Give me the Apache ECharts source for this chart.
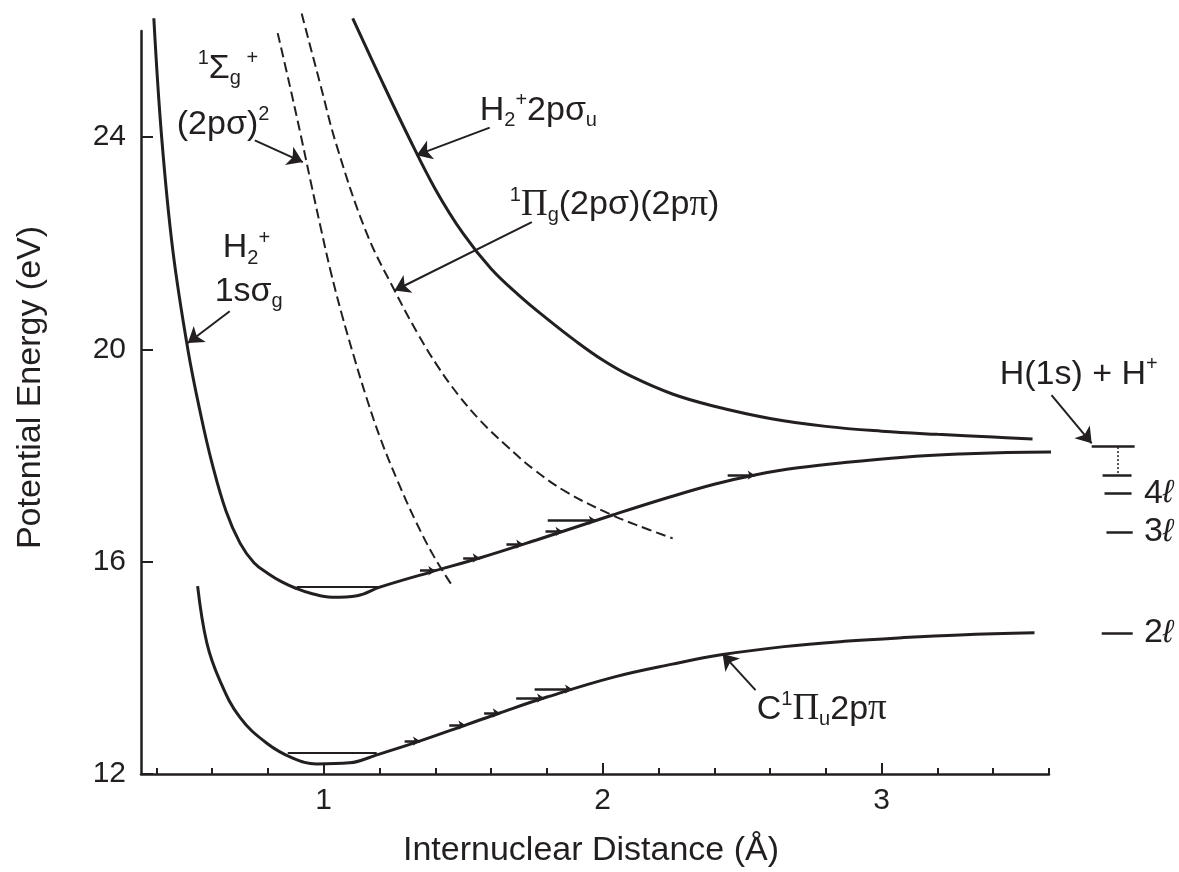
<!DOCTYPE html>
<html>
<head>
<meta charset="utf-8">
<script src="https://cdn.jsdelivr.net/npm/echarts@6/dist/echarts.min.js"></script>
<style>
  html, body { margin: 0; padding: 0; background: #fff; }
  #potentialChart { width: 1179px; height: 872px; }
</style>
</head>
<body>
<div id="potentialChart"></div>
<script>
var ink = '#231f20';
var SANS = 'Liberation Sans, Arial, Helvetica, sans-serif';
var SERIF = 'Liberation Serif, Times New Roman, serif';

// axes
var xMajorTicks = [1, 2, 3];
var xMinorTicks = [0.4, 0.6, 0.8, 1.2, 1.4, 1.6, 1.8, 2.2, 2.4, 2.6, 2.8, 3.2, 3.4, 3.6];
var yTicks = [12, 16, 20, 24];

// potential curves [R (Å), E (eV)]
var h2pGround = [[0.391, 26.24], [0.419, 24.0], [0.459, 21.87], [0.513, 20.0], [0.56, 18.75], [0.60, 17.85],
  [0.65, 16.95], [0.70, 16.35], [0.75, 15.98], [0.80, 15.78], [0.85, 15.62], [0.90, 15.50], [0.95, 15.41],
  [1.03, 15.33], [1.12, 15.36], [1.201, 15.52], [1.38, 15.80], [1.559, 16.07], [1.763, 16.41], [2.036, 16.88],
  [2.229, 17.2], [2.4, 17.46], [2.55, 17.64], [2.7, 17.77], [2.867, 17.87], [3.08, 17.97], [3.28, 18.03],
  [3.45, 18.06], [3.638, 18.07]];
var h2pRepulsive = [[1.104, 26.24], [1.2, 25.15], [1.3, 24.05], [1.4, 23.02], [1.5, 22.18], [1.6, 21.52],
  [1.7, 21.02], [1.8, 20.58], [1.9, 20.17], [2.0, 19.8], [2.1, 19.5], [2.25, 19.16], [2.4, 18.93], [2.6, 18.70],
  [2.8, 18.55], [3.0, 18.46], [3.2, 18.40], [3.4, 18.35], [3.541, 18.31]];
var cState = [[0.548, 15.54], [0.581, 14.47], [0.627, 13.77], [0.699, 13.07], [0.796, 12.58], [0.889, 12.30],
  [0.975, 12.19], [1.093, 12.21], [1.19, 12.36], [1.333, 12.6], [1.513, 12.93], [1.631, 13.15], [1.8, 13.45],
  [2.043, 13.83], [2.25, 14.07], [2.43, 14.25], [2.65, 14.4], [2.867, 14.5], [3.08, 14.57], [3.28, 14.62],
  [3.548, 14.66]];
var sigmaDoubly = [[0.835, 25.96], [0.878, 24.98], [0.918, 24.03], [0.953, 23.17], [0.989, 22.30], [1.025, 21.47],
  [1.065, 20.66], [1.108, 19.87], [1.154, 19.08], [1.204, 18.31], [1.265, 17.52], [1.33, 16.76], [1.394, 16.11],
  [1.459, 15.56]];
var piDoubly = [[0.921, 26.33], [0.986, 25.03], [1.047, 23.83], [1.154, 22.19], [1.254, 21.11], [1.337, 20.30],
  [1.409, 19.68], [1.48, 19.16], [1.563, 18.65], [1.656, 18.18], [1.753, 17.74], [1.871, 17.31], [2.025, 16.90],
  [2.122, 16.69], [2.251, 16.44]];

// vibrational levels [E, R start, R end]
var groundLevelZero = [[15.52, 0.903, 1.201]];
var groundLevels = [[15.83, 1.345, 1.40], [16.07, 1.50, 1.559], [16.33, 1.655, 1.715], [16.57, 1.795, 1.856],
  [16.78, 1.803, 1.975], [17.63, 2.448, 2.545]];
var cLevelZero = [[12.40, 0.871, 1.19]];
var cLevels = [[12.62, 1.29, 1.345], [12.92, 1.45, 1.508], [13.15, 1.575, 1.631], [13.43, 1.69, 1.79],
  [13.60, 1.756, 1.89]];

// dissociation limits on the right
var limitLevels = [[18.18, 3.753, 3.907], [17.63, 3.792, 3.896], [17.29, 3.799, 3.896], [16.56, 3.806, 3.9],
  [14.66, 3.789, 3.9]];
var limitLink = [[3.846, 18.16], [3.846, 17.65]];

// annotations
var labelTexts = [
  '{t|H}{sb|2}{sp|+}',
  '{t|1s}{t|σ}{sb|g}',
  '{sp|1}{t|Σ}{sb|g}{sp| +}',
  '{t|(2pσ)}{sp|2}',
  '{t|H}{sb|2}{sp|+}{t|2pσ}{sb|u}',
  '{sp|1}{gr|Π}{sb|g}{t|(2pσ)(2p}{gr|π}{t|)}',
  '{t|C}{sp|1}{gr|Π}{sb|u}{t|2p}{gr|π}',
  '{t|H(1s) + H}{sp|+}',
  '{t|4}{it|ℓ}',
  '{t|3}{it|ℓ}',
  '{t|2}{it|ℓ}'
];
var labelPos = [[0.638, 21.91], [0.609, 21.09], [0.548, 25.30], [0.473, 24.24], [1.559, 24.50], [1.667, 22.72],
  [2.552, 13.22], [3.423, 19.53], [3.94, 17.29], [3.94, 16.56], [3.94, 14.66]];
var arrowFrom = [[0.663, 20.72], [0.753, 23.94], [1.595, 24.18], [1.746, 22.40], [2.548, 13.58], [3.609, 19.14]];
var arrowTo = [[0.513, 20.12], [0.925, 23.53], [1.333, 23.66], [1.254, 21.11], [2.43, 14.26], [3.753, 18.23]];

var chartDom = document.getElementById('potentialChart');
var myChart = echarts.init(chartDom, null, { renderer: 'canvas' });

var toSegments = function (levels) {
  return levels.map(function (l) {
    return { coords: [[l[1], l[0]], [l[2], l[0]]] };
  });
};

var curve = function (name, data, dashed) {
  return {
    name: name,
    type: 'line',
    data: data,
    smooth: 0.4,
    showSymbol: false,
    clip: false,
    silent: true,
    lineStyle: {
      color: ink,
      width: dashed ? 2 : 3,
      type: dashed ? [10, 5] : 'solid'
    }
  };
};

var segments = function (name, data, width, extra) {
  var s = {
    name: name,
    type: 'lines',
    coordinateSystem: 'cartesian2d',
    clip: false,
    silent: true,
    symbol: 'none',
    lineStyle: { color: ink, width: width, opacity: 1 },
    itemStyle: { color: ink },
    data: data
  };
  return Object.assign(s, extra || {});
};

var richStyles = {
  t: { fontSize: 34, fontFamily: SANS, color: ink, opacity: 1, lineHeight: 40 },
  gr: { fontSize: 37, fontFamily: SERIF, color: ink, opacity: 1, lineHeight: 40 },
  it: { fontSize: 32, fontFamily: SANS, fontStyle: 'italic', color: ink, opacity: 1, lineHeight: 40 },
  sb: { fontSize: 20, fontFamily: SANS, color: ink, opacity: 1, lineHeight: 20, verticalAlign: 'bottom' },
  sp: { fontSize: 20, fontFamily: SANS, color: ink, opacity: 1, lineHeight: 20, verticalAlign: 'top' }
};

var option = {
  animation: false,
  backgroundColor: '#fff',
  grid: { left: 141, right: 130, top: 31, bottom: 98, containLabel: false, outerBoundsMode: 'none' },
  xAxis: [{
    type: 'value',
    min: 0.345,
    max: 3.6,
    position: 'bottom',
    axisLine: { show: true, onZero: false, lineStyle: { color: ink, width: 2.5 } },
    axisTick: { show: true, inside: true, length: 11, customValues: xMajorTicks, lineStyle: { color: ink, width: 2 } },
    axisLabel: { show: true, customValues: xMajorTicks, fontSize: 30, fontFamily: SANS, color: ink, margin: 12 },
    splitLine: { show: false },
    name: 'Internuclear Distance (Å)',
    nameLocation: 'middle',
    nameGap: 60,
    nameTextStyle: { fontSize: 34, fontFamily: SANS, color: ink, padding: [0, 8, 0, 0] }
  }, {
    type: 'value',
    min: 0.345,
    max: 3.6,
    position: 'bottom',
    axisLine: { show: false, onZero: false },
    axisTick: { show: true, inside: true, length: 6, customValues: xMinorTicks, lineStyle: { color: ink, width: 2 } },
    axisLabel: { show: false },
    splitLine: { show: false }
  }],
  yAxis: {
    type: 'value',
    min: 12,
    max: 26,
    axisLine: { show: true, onZero: false, lineStyle: { color: ink, width: 2.5 } },
    axisTick: { show: true, inside: true, length: 12, customValues: yTicks, lineStyle: { color: ink, width: 2 } },
    axisLabel: { show: true, customValues: yTicks, fontSize: 30, fontFamily: SANS, color: ink, margin: 15 },
    splitLine: { show: false },
    name: 'Potential Energy (eV)',
    nameLocation: 'middle',
    nameGap: 93,
    nameRotate: 90,
    nameTextStyle: { fontSize: 34, fontFamily: SANS, color: ink, padding: [0, 0, 0, 30] }
  },
  series: [
    curve('H2+ 1sσg', h2pGround, false),
    curve('H2+ 2pσu', h2pRepulsive, false),
    curve('C1Πu 2pπ', cState, false),
    curve('1Σg+ (2pσ)2', sigmaDoubly, true),
    curve('1Πg (2pσ)(2pπ)', piDoubly, true),
    segments('v0', toSegments(groundLevelZero.concat(cLevelZero)), 2),
    segments('levels', toSegments(groundLevels.concat(cLevels)), 2.5, { symbol: ['none', 'arrow'], symbolSize: 7 }),
    segments('limits', toSegments(limitLevels), 2.5),
    segments('limitLink', [{ coords: limitLink }], 1.5, {
      lineStyle: { color: ink, width: 1.5, type: [2, 2], opacity: 1 }
    }),
    segments('arrows', arrowFrom.map(function (p, i) {
      return { coords: [p, arrowTo[i]] };
    }), 2, { symbol: ['none', 'arrow'], symbolSize: 15 }),
    {
      name: 'labels',
      type: 'scatter',
      clip: false,
      silent: true,
      symbol: 'circle',
      symbolSize: 0.1,
      itemStyle: { color: ink, opacity: 1 },
      label: {
        show: true,
        position: 'right',
        distance: 0,
        color: ink,
        opacity: 1,
        textBorderWidth: 0,
        formatter: function (params) {
          return params.data.text;
        },
        rich: richStyles
      },
      data: labelPos.map(function (p, i) {
        return { value: p, text: labelTexts[i] };
      })
    }
  ]
};
myChart.setOption(option);
</script>
</body>
</html>
